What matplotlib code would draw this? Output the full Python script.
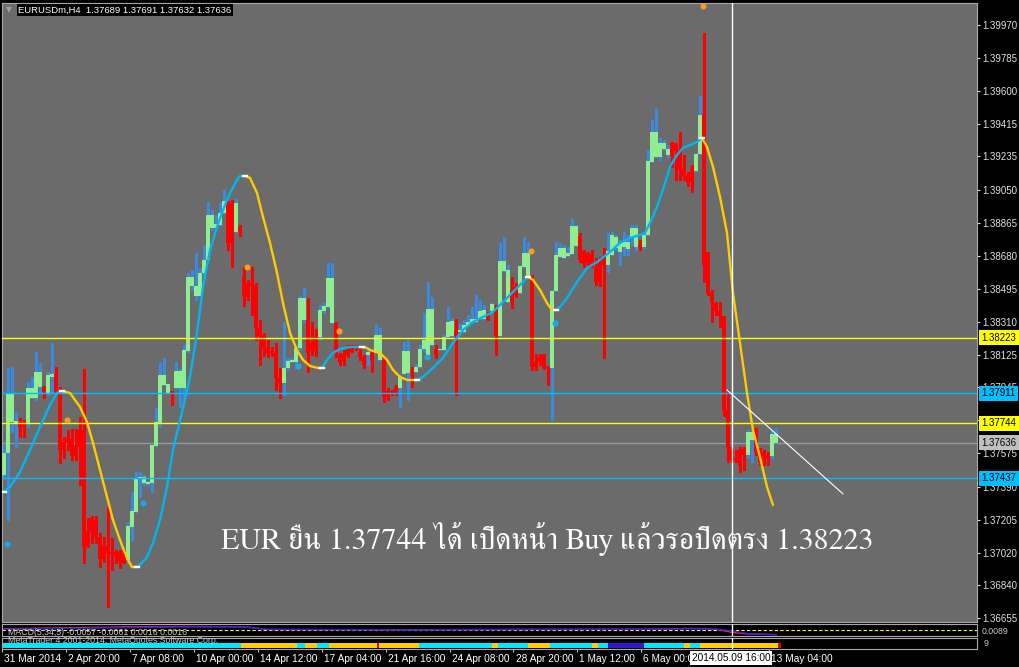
import matplotlib
matplotlib.use("Agg")
import matplotlib.pyplot as plt
import matplotlib.transforms as mtransforms
import numpy as np

plt.rcParams["font.family"] = ["Liberation Sans", "DejaVu Sans"]

# ---------------- data (EURUSDm, H4) ----------------
opens = [1.37455, 1.37578, 1.37751, 1.37745, 1.37751, 1.37745, 1.37740, 1.37885, 1.37885, 1.37947,
         1.37952, 1.37913, 1.38003, 1.38019, 1.37930, 1.37639, 1.37662, 1.37656, 1.37617, 1.37705,
         1.37705, 1.37142, 1.37214, 1.37203, 1.37108, 1.37058, 1.37058, 1.37024, 1.37024, 1.37024,
         1.37019, 1.36980, 1.37165, 1.37248, 1.37432, 1.37410, 1.37404, 1.37410, 1.37617, 1.37745,
         1.37958, 1.37913, 1.37924, 1.37941, 1.37941, 1.37941, 1.38148, 1.38511, 1.38455, 1.38455,
         1.38584, 1.38657, 1.38835, 1.38835, 1.38852, 1.38919, 1.38975, 1.38975, 1.38813, 1.38841,
         1.38562, 1.38528, 1.38528, 1.38517, 1.38276, 1.38237, 1.38165, 1.38148, 1.38137, 1.37997,
         1.37969, 1.38053, 1.38086, 1.38086, 1.38165, 1.38321, 1.38321, 1.38193, 1.38226, 1.38226,
         1.38372, 1.38394, 1.38304, 1.38304, 1.38126, 1.38131, 1.38159, 1.38181, 1.38176, 1.38142,
         1.38114, 1.38126, 1.38137, 1.38137, 1.38098, 1.38098, 1.37924, 1.37924, 1.37947, 1.37941,
         1.38019, 1.38025, 1.38036, 1.38031, 1.38058, 1.38159, 1.38126, 1.38181, 1.38159, 1.38153,
         1.38153, 1.38226, 1.38232, 1.38260, 1.38254, 1.38254, 1.38288, 1.38310, 1.38310, 1.38327,
         1.38327, 1.38349, 1.38372, 1.38366, 1.38232, 1.38595, 1.38422, 1.38489, 1.38506, 1.38472,
         1.38617, 1.38562, 1.38567, 1.38086, 1.38114, 1.38126, 1.38058, 1.38053, 1.38483, 1.38674,
         1.38668, 1.38679, 1.38690, 1.38735, 1.38791, 1.38707, 1.38690, 1.38685, 1.38612, 1.38640,
         1.38668, 1.38629, 1.38685, 1.38724, 1.38701, 1.38729, 1.38718, 1.38780, 1.38729, 1.38740,
         1.38729, 1.38796, 1.39204, 1.39232, 1.39232, 1.39277, 1.39244, 1.39311, 1.39311, 1.39272,
         1.39165, 1.39132, 1.39177, 1.39154, 1.39249, 1.39467, 1.38701, 1.38472, 1.38416, 1.38372,
         1.38344, 1.37818, 1.37611, 1.37550, 1.37595, 1.37600, 1.37567, 1.37650, 1.37717, 1.37589,
         1.37583, 1.37567, 1.37561, 1.37634]
highs = [1.37622, 1.38053, 1.38058, 1.37807, 1.37773, 1.37762, 1.37975, 1.38003, 1.38142, 1.38081,
         1.37952, 1.38031, 1.38193, 1.38058, 1.37947, 1.37667, 1.37706, 1.37712, 1.37712, 1.37779,
         1.38047, 1.37214, 1.37226, 1.37226, 1.37131, 1.37108, 1.37276, 1.37103, 1.37035, 1.37035,
         1.37035, 1.37192, 1.37360, 1.37472, 1.37472, 1.37455, 1.37421, 1.37622, 1.37829, 1.38081,
         1.38109, 1.37964, 1.37924, 1.38086, 1.38047, 1.38181, 1.38584, 1.38601, 1.38696, 1.38612,
         1.38740, 1.38981, 1.38936, 1.38908, 1.38975, 1.39049, 1.38986, 1.38992, 1.38998, 1.38852,
         1.38617, 1.38545, 1.38617, 1.38528, 1.38321, 1.38249, 1.38209, 1.38170, 1.38193, 1.38053,
         1.38310, 1.38109, 1.38109, 1.38181, 1.38455, 1.38500, 1.38444, 1.38310, 1.38271, 1.38405,
         1.38416, 1.38640, 1.38640, 1.38310, 1.38137, 1.38153, 1.38181, 1.38181, 1.38181, 1.38170,
         1.38126, 1.38153, 1.38153, 1.38299, 1.38276, 1.38109, 1.37941, 1.37930, 1.37958, 1.38014,
         1.38198, 1.38209, 1.38058, 1.38075, 1.38181, 1.38360, 1.38534, 1.38450, 1.38181, 1.38159,
         1.38237, 1.38394, 1.38332, 1.38327, 1.38299, 1.38321, 1.38349, 1.38394, 1.38461, 1.38433,
         1.38405, 1.38366, 1.38416, 1.38405, 1.38752, 1.38785, 1.38629, 1.38562, 1.38528, 1.38629,
         1.38785, 1.38757, 1.38573, 1.38131, 1.38131, 1.38131, 1.38064, 1.38489, 1.38757, 1.38752,
         1.38740, 1.38729, 1.38886, 1.38852, 1.38808, 1.38712, 1.38701, 1.38712, 1.38668, 1.38674,
         1.38724, 1.38808, 1.38813, 1.38796, 1.38768, 1.38813, 1.38796, 1.38852, 1.38852, 1.38768,
         1.38813, 1.39272, 1.39439, 1.39506, 1.39339, 1.39327, 1.39299, 1.39316, 1.39311, 1.39372,
         1.39244, 1.39149, 1.39188, 1.39255, 1.39573, 1.39926, 1.38701, 1.38489, 1.38422, 1.38422,
         1.38344, 1.37930, 1.37611, 1.37595, 1.37611, 1.37611, 1.37706, 1.37706, 1.37717, 1.37606,
         1.37595, 1.37583, 1.37705, 1.37717]
lows = [1.37438, 1.37203, 1.37695, 1.37611, 1.37667, 1.37667, 1.37723, 1.37885, 1.37874, 1.37913,
        1.37885, 1.37902, 1.37913, 1.37913, 1.37522, 1.37550, 1.37595, 1.37539, 1.37539, 1.37399,
        1.36963, 1.37052, 1.37075, 1.37075, 1.36940, 1.36968, 1.36717, 1.36924, 1.36963, 1.36935,
        1.36963, 1.36963, 1.37091, 1.37248, 1.37332, 1.37399, 1.37399, 1.37360, 1.37617, 1.37723,
        1.37958, 1.37913, 1.37846, 1.37941, 1.37835, 1.37874, 1.38142, 1.38489, 1.38433, 1.38455,
        1.38573, 1.38657, 1.38824, 1.38835, 1.38852, 1.38919, 1.38712, 1.38617, 1.38813, 1.38791,
        1.38399, 1.38433, 1.38349, 1.38209, 1.38070, 1.38120, 1.38114, 1.38120, 1.37930, 1.37885,
        1.37902, 1.38042, 1.38086, 1.38053, 1.38153, 1.38310, 1.38031, 1.38126, 1.38120, 1.38209,
        1.38360, 1.38394, 1.38304, 1.38114, 1.38070, 1.38070, 1.38114, 1.38142, 1.38153, 1.38098,
        1.38053, 1.38070, 1.38031, 1.38137, 1.38098, 1.37863, 1.37874, 1.37902, 1.37902, 1.37835,
        1.38019, 1.37874, 1.37947, 1.38031, 1.38058, 1.38142, 1.38126, 1.38181, 1.38109, 1.38153,
        1.38153, 1.38226, 1.38232, 1.37902, 1.38254, 1.38254, 1.38288, 1.38310, 1.38310, 1.38327,
        1.38327, 1.38321, 1.38372, 1.38126, 1.38232, 1.38595, 1.38422, 1.38388, 1.38450, 1.38472,
        1.38617, 1.38562, 1.38042, 1.38042, 1.38070, 1.38047, 1.37958, 1.37762, 1.38483, 1.38674,
        1.38668, 1.38679, 1.38690, 1.38735, 1.38645, 1.38617, 1.38629, 1.38617, 1.38517, 1.38511,
        1.38109, 1.38590, 1.38685, 1.38712, 1.38629, 1.38685, 1.38685, 1.38740, 1.38712, 1.38712,
        1.38724, 1.38796, 1.39204, 1.39232, 1.39216, 1.39272, 1.39232, 1.39177, 1.39104, 1.39104,
        1.39104, 1.39070, 1.39037, 1.39154, 1.39249, 1.38534, 1.38461, 1.38310, 1.38349, 1.38282,
        1.37785, 1.37527, 1.37527, 1.37527, 1.37472, 1.37483, 1.37550, 1.37527, 1.37567, 1.37511,
        1.37511, 1.37511, 1.37550, 1.37634]
closes = [1.37578, 1.37913, 1.37913, 1.37757, 1.37723, 1.37723, 1.37941, 1.37941, 1.38031, 1.38031,
          1.37919, 1.38014, 1.38019, 1.37919, 1.37595, 1.37595, 1.37634, 1.37561, 1.37561, 1.37611,
          1.37052, 1.37058, 1.37136, 1.37108, 1.36985, 1.36985, 1.37019, 1.37013, 1.37002, 1.36974,
          1.36963, 1.37170, 1.37254, 1.37438, 1.37444, 1.37444, 1.37416, 1.37622, 1.37751, 1.38014,
          1.38014, 1.37964, 1.37913, 1.38036, 1.38036, 1.38153, 1.38562, 1.38562, 1.38511, 1.38584,
          1.38657, 1.38908, 1.38908, 1.38858, 1.38919, 1.38986, 1.38752, 1.38752, 1.38975, 1.38813,
          1.38455, 1.38450, 1.38511, 1.38276, 1.38232, 1.38165, 1.38137, 1.38137, 1.37997, 1.37969,
          1.38053, 1.38092, 1.38098, 1.38165, 1.38444, 1.38444, 1.38137, 1.38148, 1.38148, 1.38377,
          1.38399, 1.38556, 1.38556, 1.38153, 1.38086, 1.38092, 1.38126, 1.38142, 1.38165, 1.38114,
          1.38070, 1.38142, 1.38092, 1.38237, 1.38237, 1.37891, 1.37891, 1.37913, 1.37913, 1.38003,
          1.38148, 1.38148, 1.38025, 1.38058, 1.38159, 1.38209, 1.38383, 1.38383, 1.38126, 1.38159,
          1.38226, 1.38310, 1.38316, 1.38232, 1.38265, 1.38293, 1.38310, 1.38327, 1.38327, 1.38372,
          1.38377, 1.38321, 1.38411, 1.38232, 1.38651, 1.38651, 1.38601, 1.38422, 1.38461, 1.38623,
          1.38696, 1.38696, 1.38058, 1.38058, 1.38086, 1.38053, 1.38053, 1.38483, 1.38685, 1.38724,
          1.38724, 1.38696, 1.38847, 1.38847, 1.38657, 1.38634, 1.38640, 1.38629, 1.38534, 1.38534,
          1.38629, 1.38707, 1.38796, 1.38785, 1.38752, 1.38757, 1.38757, 1.38835, 1.38835, 1.38729,
          1.38796, 1.39210, 1.39372, 1.39372, 1.39311, 1.39311, 1.39277, 1.39238, 1.39266, 1.39160,
          1.39126, 1.39087, 1.39093, 1.39249, 1.39467, 1.38629, 1.38472, 1.38416, 1.38372, 1.38344,
          1.37813, 1.37611, 1.37539, 1.37533, 1.37505, 1.37567, 1.37695, 1.37695, 1.37583, 1.37527,
          1.37544, 1.37544, 1.37684, 1.37684]

# smoothed trend line (bar position, price) read at points along the curve
ma_bars = [-0.25, 1.5, 4, 6.5, 9, 11.5, 13.25, 14.5, 15.5, 16.5, 19, 20.75, 22.25, 24, 25.75,
           27.25, 29, 30.75, 32, 33.25, 34, 35.75, 37.25, 39, 40.75, 42.25, 44.75, 46.5, 48.25,
           49.75, 51.5, 53.25, 54.75, 56.5, 58.25, 59, 60.25, 61.5, 63.25, 64.75, 66.5, 68.25,
           69.75, 71.5, 73.25, 74.75, 76.5, 78.5, 79.5, 80.75, 82.25, 84, 86.5, 89.5, 90.75,
           91.5, 94, 95.75, 97.25, 99, 100.75, 103.25, 104.75, 107.25, 109.75, 112.25, 114.75,
           117.25, 119.75, 122.25, 124, 125.75, 127.25, 129, 131, 132.25, 134, 135.75, 137, 138,
           139, 140.75, 143.25, 145.75, 148.25, 151.5, 154, 156.5, 159, 160.25, 161.5, 163.25,
           164.75, 166.5, 168.25, 169.75, 171.5, 173.25, 174.5, 175.75, 177.25, 179, 180.75,
           182.25, 184, 185.75, 187.25, 189, 190.75, 192.25]
ma_prices = [1.37360, 1.37388, 1.37472, 1.37595, 1.37723, 1.37846, 1.37913, 1.37924, 1.37919,
             1.37913, 1.37835, 1.37751, 1.37634, 1.37483, 1.37332, 1.37203, 1.37091, 1.36991,
             1.36940, 1.36940, 1.36952, 1.36996, 1.37075, 1.37203, 1.37388, 1.37595, 1.37829,
             1.38003, 1.38249, 1.38506, 1.38712, 1.38841, 1.38936, 1.39031, 1.39104, 1.39126,
             1.39126, 1.39115, 1.39031, 1.38897, 1.38752, 1.38584, 1.38416, 1.38249, 1.38153,
             1.38098, 1.38064, 1.38053, 1.38053, 1.38098, 1.38137, 1.38159, 1.38170, 1.38170,
             1.38165, 1.38153, 1.38137, 1.38098, 1.38042, 1.38003, 1.37986, 1.37986, 1.38003,
             1.38053, 1.38109, 1.38193, 1.38265, 1.38310, 1.38338, 1.38366, 1.38405, 1.38444,
             1.38478, 1.38517, 1.38562, 1.38545, 1.38489, 1.38416, 1.38377, 1.38377, 1.38394,
             1.38444, 1.38534, 1.38612, 1.38645, 1.38701, 1.38752, 1.38780, 1.38796, 1.38808,
             1.38863, 1.38953, 1.39049, 1.39177, 1.39244, 1.39283, 1.39299, 1.39316, 1.39339,
             1.39288, 1.39177, 1.39009, 1.38808, 1.38472, 1.38193, 1.37913, 1.37706, 1.37555,
             1.37388, 1.37287]

sell_bars = [15.75, 60.75, 83.75, 131.75, 174.75]
sell_prices = [1.37762, 1.38617, 1.38260, 1.38707, 1.40076]
buy_bars = [0.75, 34.75, 73.5, 105.75, 137.75]
buy_prices = [1.37069, 1.37298, 1.38064, 1.38114, 1.38304]

level_prices = [1.38223, 1.37911, 1.37744, 1.37437]
level_colors = ["#ffff00", "#00bfff", "#ffff00", "#00bfff"]
bid_price = 1.37636

trend_bars = [180.75, 209.75]
trend_prices = [1.37930, 1.37349]
cursor_bar = 182

price_ticks = [1.39970, 1.39785, 1.39600, 1.39415, 1.39235, 1.39050, 1.38865, 1.38680, 1.38495,
               1.38310, 1.38125, 1.37945, 1.37760, 1.37575, 1.37390, 1.37205, 1.37020, 1.36840,
               1.36655]
date_tick_bars = [-0.75, 15.25, 31.25, 47.25, 63.25, 79.25, 95.25, 111.25, 127.25, 143.25,
                  159.25, 191.25]
date_labels = ["31 Mar 2014", "2 Apr 20:00", "7 Apr 08:00", "10 Apr 00:00", "14 Apr 12:00",
               "17 Apr 04:00", "21 Apr 16:00", "24 Apr 08:00", "28 Apr 20:00", "1 May 12:00",
               "6 May 00:00", "13 May 04:00"]

macd_bars = [0, 32, 45, 60, 66, 100, 130, 160, 172, 178, 182, 186, 193]
macd_main = [0.0015, 0.0040, 0.0045, 0.0040, 0.0005, 0.0003, 0.0008, 0.0010, 0.0020, 0.0010,
             -0.0030, -0.0050, -0.0057]
macd_signal = [0.0010, 0.0030, 0.0038, 0.0038, 0.0010, 0.0000, 0.0005, 0.0008, 0.0015, 0.0012,
               -0.0010, -0.0045, -0.0061]

band_start = [-0.5, 59, 73, 75, 78, 81, 93, 93.5, 103.5, 122, 123.5, 131, 136.5, 147, 148.5,
              151, 160, 170, 171.5, 174, 193.5]
band_end = [59, 73, 75, 78, 81, 93, 93.5, 103.5, 122, 123.5, 131, 136.5, 147, 148.5, 151,
            160, 170, 171.5, 174, 193.5, 194.2]
band_colors = ["#00e8ff", "#ffcc00", "#00e8ff", "#ffcc00", "#00e8ff", "#ffcc00", "#e00000",
               "#ffcc00", "#00e8ff", "#ffcc00", "#00e8ff", "#ffcc00", "#00e8ff", "#ffcc00",
               "#00e8ff", "#3018d0", "#00e8ff", "#ffcc00", "#00e8ff", "#ffcc00", "#e00000"]

caption = "EUR ยืน 1.37744 ได้ เปิดหน้า Buy แล้วรอปิดตรง 1.38223"
header = "EURUSDm,H4  1.37689 1.37691 1.37632 1.37636"

W, H = 1020, 667
BG = "#6b6b6b"
fig = plt.figure(figsize=(W / 100, H / 100), dpi=100, facecolor="black")
ax = fig.add_axes([2 / W, (H - 622) / H, 975 / W, 619 / H], facecolor=BG)
ax_macd = fig.add_axes([2 / W, (H - 636) / H, 975 / W, 12 / H], facecolor="black")
ax_band = fig.add_axes([2 / W, (H - 649) / H, 975 / W, 11 / H], facecolor="black")

xlim = (-0.5, 243.25)
for a in (ax, ax_macd, ax_band):
    a.set_xlim(*xlim)
    for s in a.spines.values():
        s.set_color("#a8a8a8")
        s.set_linewidth(0.8)
ax.set_ylim(1.36633, 1.40093)

# candles (crisp, like the terminal draws them)
o = np.array(opens)
c = np.array(closes)
h = np.maximum(np.array(highs), np.maximum(o, c))
l = np.minimum(np.array(lows), np.minimum(o, c))
x = np.arange(len(c))
up = c >= o
ax.vlines(x[up], l[up], h[up], color="#3a8ae0", lw=0.75, zorder=2, antialiased=False)
ax.vlines(x[~up], l[~up], h[~up], color="#ff0000", lw=0.75, zorder=2, antialiased=False)
body = np.maximum(np.abs(c - o), 0.00004)
ax.bar(x[up], body[up], bottom=np.minimum(o, c)[up], width=0.76, color="#90ee90", lw=0,
       zorder=3, antialiased=False)
ax.bar(x[~up], body[~up], bottom=np.minimum(o, c)[~up], width=0.76, color="#ff0000", lw=0,
       zorder=3, antialiased=False)

# horizontal levels
for p, col in zip(level_prices, level_colors):
    ax.axhline(p, color=col, lw=1.0, zorder=4)
ax.axhline(bid_price, color="#8e9aa4", lw=1.0, zorder=1)

# smoothed line coloured by slope
prev = None
for k in range(len(ma_bars) - 1):
    d = ma_prices[k + 1] - ma_prices[k]
    col = "#00b8f0" if d > 0 else ("#ffcc00" if d < 0 else (prev or "#00b8f0"))
    ax.plot(ma_bars[k:k + 2], ma_prices[k:k + 2], color=col, lw=1.7,
            solid_capstyle="round", zorder=5)
    if prev is not None and col != prev:
        ax.plot([ma_bars[k] - 0.6, ma_bars[k] + 0.6], [ma_prices[k]] * 2, color="white",
                lw=1.7, zorder=6)
    prev = col
ax.plot([ma_bars[0], ma_bars[0] + 0.8], [ma_prices[0]] * 2, color="white", lw=1.7, zorder=6)

ax.plot(sell_bars, sell_prices, "o", color="#ff9a1a", ms=4.4, mec="none", zorder=7, clip_on=False)
ax.plot(buy_bars, buy_prices, "o", color="#1aa8f0", ms=4.4, mec="none", zorder=7)

ax.plot(trend_bars, trend_prices, color="white", lw=0.8, zorder=6)
for a in (ax, ax_macd, ax_band):
    a.axvline(cursor_bar, color="white", lw=1.0, zorder=8)

# right price axis
ax.yaxis.tick_right()
ax.set_yticks(price_ticks)
ax.set_yticklabels(["%.5f" % p for p in price_ticks])
ax.tick_params(axis="y", colors="#e0e0e0", labelsize=7, length=2.5, width=0.8, pad=1.5)
ax.set_xticks([])

bt = mtransforms.blended_transform_factory(ax.transAxes, ax.transData)
for p, col in zip(level_prices, level_colors):
    ax.text(1.0045, p, "%.5f" % p, transform=bt, fontsize=7, color="black", va="center",
            ha="left", clip_on=False, zorder=10,
            bbox=dict(boxstyle="square,pad=0.25", fc=col, ec="none"))
ax.text(1.0045, bid_price, "%.5f" % bid_price, transform=bt, fontsize=7, color="black",
        va="center", ha="left", clip_on=False, zorder=10,
        bbox=dict(boxstyle="square,pad=0.25", fc="#c0c0c0", ec="none"))

# header
fig.text(6 / W, 1 - 10 / H, "\u25BC", color="#a0a0a0", fontsize=5.5, va="center",
         family="DejaVu Sans")
fig.text(18 / W, 1 - 10 / H, header, color="white", fontsize=6.8, va="center",
         bbox=dict(boxstyle="square,pad=0.15", fc="black", ec="none"))

# caption
ax.text((547 - 2) / 975, (622 - 549) / 619, caption, transform=ax.transAxes, ha="center",
        va="baseline", color="white", fontsize=21.6, family=["FreeSerif", "DejaVu Sans"],
        zorder=9)

# MACD panel
ax_macd.set_ylim(-0.0075, 0.0075)
ax_macd.axhline(0, color="#ffff00", lw=0.8, ls=(0, (3, 2)))
ax_macd.plot(macd_bars, macd_main, color="#ff2020", lw=1.0)
ax_macd.plot(macd_bars, macd_signal, color="#2020ff", lw=1.0)
ax_macd.set_xticks([])
ax_macd.set_yticks([])
ax_macd.text(0.006, 0.3, "MACD(5,34,5) -0.0057 -0.0061 0.0016 0.0016", transform=ax_macd.transAxes,
             fontsize=6.3, color="#c8c8c8", va="center")
fig.text(982 / W, 1 - 631 / H, "0.0089", fontsize=6.3, color="#c8c8c8", va="center")

# colour band panel
ax_band.set_ylim(0, 1)
for s0, s1, col in zip(band_start, band_end, band_colors):
    ax_band.broken_barh([(s0, s1 - s0)], (0.1, 0.45), facecolors=col)
ax_band.text(0.006, 0.78, "MetaTrader 4 2001-2014, MetaQuotes Software Corp.",
             transform=ax_band.transAxes, fontsize=6.3, color="#c8c8c8", va="center")
fig.text(984 / W, 1 - 644 / H, "9", fontsize=6.3, color="#c8c8c8", va="center")
ax_band.set_yticks([])
ax_band.set_xticks(date_tick_bars)
ax_band.set_xticklabels(date_labels)
ax_band.tick_params(axis="x", colors="#c0c0c0", labelcolor="white", labelsize=7.3,
                    length=2.5, width=0.8, pad=1.2)
shift = mtransforms.ScaledTranslation(1.5 / 72, 0, fig.dpi_scale_trans)
for lab in ax_band.get_xticklabels():
    lab.set_horizontalalignment("left")
    lab.set_transform(lab.get_transform() + shift)
bx = mtransforms.blended_transform_factory(ax_band.transData, ax_band.transAxes)
ax_band.text(cursor_bar - 0.25, -0.82, "2014.05.09 16:00", transform=bx, ha="center",
             va="center", fontsize=7.3, color="black", clip_on=False, zorder=10,
             bbox=dict(boxstyle="square,pad=0.15", fc="white", ec="none"))

fig.savefig("out.png", dpi=100, facecolor="black")
